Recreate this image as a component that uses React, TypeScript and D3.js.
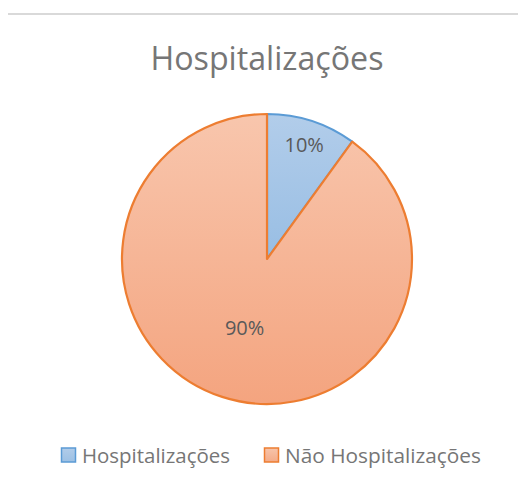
import React from "react";
import * as d3 from "d3";

const categories = ["Hospitalizações", "Não Hospitalizações"];
const values = [10, 90];
const labels = ["10%", "90%"];

const W = 518;
const H = 484;
const FONT = "'Open Sans', 'Liberation Sans', sans-serif";

export default function App() {
  const cx = 267;
  const cy = 259;
  const r = 145;
  const pie = d3.pie<number>().sort(null).value((d) => d);
  const arcs = pie(values);
  const arc = d3.arc<d3.PieArcDatum<number>>().innerRadius(0).outerRadius(r);
  const labelR = [0.83, 0.5];
  const fills = ["url(#gBlue)", "url(#gOrange)"];
  const strokes = ["#5b9bd5", "#ed7d31"];
  const legendX = [61, 264];
  const legendLen = [148, 196];
  return (
    <svg
      width={W}
      height={H}
      style={{ position: "absolute", left: 0, top: 0, background: "#fff" }}
    >
      <defs>
        <linearGradient id="gBlue" gradientUnits="userSpaceOnUse" x1="0" y1={-r} x2="0" y2={r}>
          <stop offset="0" stopColor="#b2cdea" />
          <stop offset="1" stopColor="#7eaedd" />
        </linearGradient>
        <linearGradient id="gOrange" gradientUnits="userSpaceOnUse" x1="0" y1={-r} x2="0" y2={r}>
          <stop offset="0" stopColor="#f8c6ad" />
          <stop offset="1" stopColor="#f4a47f" />
        </linearGradient>
        <linearGradient id="lBlue" x1="0" y1="0" x2="0" y2="1">
          <stop offset="0" stopColor="#b1cce9" />
          <stop offset="1" stopColor="#9cc0e4" />
        </linearGradient>
        <linearGradient id="lOrange" x1="0" y1="0" x2="0" y2="1">
          <stop offset="0" stopColor="#f7c4aa" />
          <stop offset="1" stopColor="#f4ab88" />
        </linearGradient>
      </defs>
      <line x1={8} x2={518} y1={14} y2={14} stroke="#d9d9d9" strokeWidth={2} />
      <text x={267} y={70} textAnchor="middle" fontFamily={FONT} fontSize={32} fill="#767676" textLength={233} lengthAdjust="spacingAndGlyphs">
        Hospitalizações
      </text>
      <g transform={`translate(${cx},${cy})`}>
        {arcs.map((a, i) => (
          <path key={i} d={arc(a) || ""} fill={fills[i]} stroke={strokes[i]} strokeWidth={2.2} strokeLinejoin="round" />
        ))}
        {arcs.map((a, i) => {
          const la = d3.arc<d3.PieArcDatum<number>>().innerRadius(r * labelR[i]).outerRadius(r * labelR[i]);
          const [lx, ly] = la.centroid(a);
          return (
            <text key={i} x={lx} y={ly} textAnchor="middle" dominantBaseline="central" fontFamily={FONT} fontSize={20} fill="#595959">
              {labels[i]}
            </text>
          );
        })}
      </g>
      {categories.map((c, i) => (
        <g key={c}>
          <rect x={legendX[i] + 0.5} y={448} width={14} height={14} fill={i === 0 ? "url(#lBlue)" : "url(#lOrange)"} stroke={strokes[i]} strokeWidth={1.5} />
          <text x={legendX[i] + 21} y={455} dominantBaseline="central" fontFamily={FONT} fontSize={20} fill="#767676" textLength={legendLen[i]} lengthAdjust="spacingAndGlyphs">
            {c}
          </text>
        </g>
      ))}
    </svg>
  );
}
